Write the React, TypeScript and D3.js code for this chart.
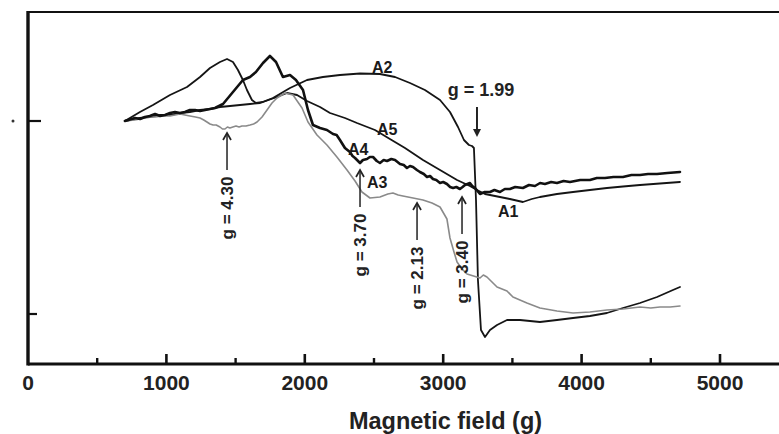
import React from 'react';
import * as d3 from 'd3';

// ---- data (field in gauss, intensity in arbitrary units) ----
const xMajorTicks = [0, 1000, 2000, 3000, 4000, 5000];
const xMinorTicks = [500, 1500, 2500, 3500, 4500];
const yTicks = [0, -193];
const xTitle = 'Magnetic field (g)';

const A2: [number, number][] = [
  [700, 0], [809, 3], [880, 4], [954, 6], [1026, 6], [1098, 8], [1170, 9], [1243, 11], [1315, 12], [1387, 14],
  [1460, 15], [1532, 16], [1604, 17], [1676, 18], [1770, 23], [1893, 33], [2016, 41], [2131, 44],
  [2254, 46], [2399, 47.5], [2543, 47], [2652, 44], [2760, 38], [2868, 31], [2977, 21], [3049, 9],
  [3107, -6], [3150, -19], [3186, -24], [3208, -25], [3222, -27], [3237, -79], [3251, -159],
  [3273, -209], [3302, -216], [3338, -209], [3389, -204], [3461, -199], [3555, -199], [3699, -201],
  [3822, -199], [3938, -197], [4060, -195], [4183, -192], [4299, -187], [4422, -182], [4545, -176],
  [4660, -169], [4711, -166],
];

const A3: [number, number][] = [
  [700, 0], [770, 1], [809, 2], [860, 4], [918, 4], [970, 5], [1026, 5], [1098, 7], [1134, 6], [1170, 5],
  [1210, 4], [1243, 3], [1270, 1], [1293, -1], [1315, -3], [1337, -4], [1360, -4], [1387, -6],
  [1405, -8], [1423, -8], [1441, -6], [1459, -7], [1480, -6], [1503, -5], [1525, -6], [1546, -5],
  [1575, -5], [1604, -4], [1630, -3], [1655, -1], [1691, 4], [1727, 11], [1763, 18], [1799, 23],
  [1857, 28], [1915, 26], [1980, 13], [2023, -1], [2088, -14], [2160, -24], [2232, -36],
  [2305, -49], [2363, -60], [2413, -71], [2471, -77], [2543, -76], [2600, -73], [2637, -72],
  [2675, -74], [2709, -75], [2782, -77], [2854, -79], [2919, -82], [2977, -86], [3027, -98],
  [3049, -117], [3078, -131], [3100, -141], [3136, -148], [3172, -153], [3266, -157], [3290, -154],
  [3316, -156], [3389, -166], [3461, -170], [3504, -176], [3605, -182], [3699, -187], [3822, -190],
  [3938, -192], [4060, -191], [4183, -189], [4299, -188], [4422, -186], [4500, -187], [4566, -186],
  [4640, -186], [4711, -185],
];

const A4: [number, number][] = [
  [700, 0], [773, 3], [810, 2], [845, 4], [880, 5], [918, 7], [955, 5], [990, 6], [1026, 8], [1062, 9],
  [1098, 8], [1134, 9], [1170, 11], [1207, 11], [1243, 10], [1279, 11], [1315, 12], [1351, 13],
  [1409, 17], [1481, 29], [1553, 41], [1604, 44], [1647, 49], [1698, 58], [1748, 65], [1792, 59],
  [1842, 44], [1893, 46], [1936, 41], [1987, 31], [2023, 11], [2059, -4], [2110, -7], [2160, -9],
  [2204, -13], [2230, -14], [2254, -19], [2290, -27], [2326, -31], [2345, -35], [2363, -37],
  [2399, -42], [2420, -39], [2449, -38], [2470, -36], [2493, -36], [2520, -40], [2543, -42],
  [2570, -39], [2594, -40], [2625, -38], [2652, -39], [2688, -43], [2715, -44], [2738, -47],
  [2760, -45], [2782, -46], [2810, -49], [2832, -51], [2860, -53], [2883, -56], [2905, -55],
  [2926, -58], [2950, -59], [2977, -62], [3000, -61], [3027, -63], [3050, -66], [3071, -67],
  [3095, -66], [3121, -68], [3140, -66], [3157, -64], [3193, -62], [3210, -65], [3230, -67],
  [3266, -73], [3300, -71], [3338, -71], [3370, -69], [3410, -71], [3445, -68], [3482, -68],
  [3520, -66], [3576, -67], [3620, -64], [3663, -65], [3700, -62], [3735, -63], [3780, -61],
  [3822, -62], [3870, -60], [3916, -61], [3990, -59], [4060, -59], [4110, -57], [4169, -57],
  [4230, -56], [4299, -56], [4360, -54], [4422, -54], [4480, -53], [4545, -53], [4620, -52],
  [4711, -51],
];

const A5: [number, number][] = [
  [700, 0], [809, 9], [903, 16], [1026, 26], [1149, 34], [1243, 44], [1315, 53], [1387, 59],
  [1438, 62], [1481, 59], [1517, 51], [1553, 41], [1582, 31], [1618, 21], [1647, 18], [1698, 19],
  [1799, 24], [1871, 28], [1944, 26], [2016, 20], [2110, 14], [2182, 8], [2290, 3], [2377, -2],
  [2507, -9], [2615, -18], [2724, -27], [2854, -39], [2977, -49], [3100, -59], [3193, -65],
  [3244, -69], [3302, -73], [3410, -76], [3482, -78], [3576, -81], [3640, -78], [3699, -76],
  [3822, -73], [3938, -71], [4060, -69], [4183, -67], [4299, -65.5], [4422, -64], [4566, -62.5],
  [4711, -61],
];

const seriesNames = ['A5', 'A2', 'A3', 'A4'];
const seriesData = [A5, A2, A3, A4];

const curveLabels = ['A2', 'A5', 'A4', 'A3', 'A1'];
const curveLabelField = [2485, 2522, 2312, 2449, 3396];
const curveLabelValue = [48, -14, -34, -67, -96];

const gLabels = ['g = 4.30', 'g = 3.70', 'g = 2.13', 'g = 3.40'];
const gFields = [1438, 2399, 2811, 3136];
const gTipValues = [-12, -49, -82, -76];

const topLabel = 'g = 1.99';
const topField = 3244;
const topTipValue = -16;

// ---- layout ----
const W = 779;
const H = 434;
const X0 = 28;
const YTOP = 12;
const YBOT = 364;

const styles: Record<string, { stroke: string; width: number }> = {
  A2: { stroke: '#151515', width: 1.8 },
  A3: { stroke: '#8a8a8a', width: 1.6 },
  A4: { stroke: '#111', width: 2.6 },
  A5: { stroke: '#151515', width: 1.8 },
};

const FONT = '"Liberation Sans", Arial, Helvetica, sans-serif';

export default function App() {
  const x = d3.scaleLinear().domain([0, 5000]).range([X0, 720]);
  const y = d3.scaleLinear().domain([-243, 109]).range([YBOT, YTOP]);
  const line = d3
    .line<[number, number]>()
    .x((d) => x(d[0]))
    .y((d) => y(d[1]))
    .curve(d3.curveLinear);

  return (
    <svg
      width={W}
      height={H}
      viewBox={`0 0 ${W} ${H}`}
      style={{ position: 'absolute', left: 0, top: 0, background: '#fff' }}
    >
      <rect x={0} y={0} width={W} height={H} fill="#fff" />
      {/* frame */}
      <line x1={X0} x2={W} y1={YTOP} y2={YTOP} stroke="#111" strokeWidth={2.2} />
      <line x1={X0} x2={W} y1={YBOT} y2={YBOT} stroke="#111" strokeWidth={3} />
      <line x1={X0} x2={X0} y1={YTOP - 1} y2={YBOT + 1.5} stroke="#111" strokeWidth={3.4} />

      {/* y ticks */}
      {yTicks.map((t, i) => (
        <line key={'yt' + t} x1={X0} x2={X0 + (i === 0 ? 13 : 9)} y1={y(t)} y2={y(t)} stroke="#111" strokeWidth={2.2} />
      ))}
      <circle cx={13} cy={y(yTicks[0])} r={1.5} fill="#333" />

      {/* x ticks */}
      {xMajorTicks.filter((t) => t > 0).map((t) => (
        <line key={'xM' + t} x1={x(t)} x2={x(t)} y1={YBOT} y2={YBOT - 10} stroke="#111" strokeWidth={2.6} />
      ))}
      {xMinorTicks.map((t) => (
        <line key={'xm' + t} x1={x(t)} x2={x(t)} y1={YBOT} y2={YBOT - 6} stroke="#111" strokeWidth={2.4} />
      ))}
      {xMajorTicks.map((t) => (
        <text
          key={'xl' + t}
          x={x(t)}
          y={390}
          textAnchor="middle"
          fontFamily={FONT}
          fontWeight="bold"
          fontSize={21}
          fill="#222"
        >
          {t}
        </text>
      ))}
      <text x={445.5} y={429} textAnchor="middle" fontFamily={FONT} fontWeight="bold" fontSize={23.5} fill="#222">
        {xTitle}
      </text>

      {/* spectra */}
      {seriesData.map((s, i) => (
        <path
          key={seriesNames[i]}
          d={line(s) || ''}
          fill="none"
          stroke={styles[seriesNames[i]].stroke}
          strokeWidth={styles[seriesNames[i]].width}
          strokeLinejoin="round"
          strokeLinecap="round"
        />
      ))}

      {/* curve labels */}
      {curveLabels.map((l, i) => (
        <text
          key={'cl' + l}
          x={x(curveLabelField[i])}
          y={y(curveLabelValue[i])}
          fontFamily={FONT}
          fontWeight="bold"
          fontSize={16}
          fill="#1a1a1a"
        >
          {l}
        </text>
      ))}

      {/* g-value arrows (pointing up) */}
      {gLabels.map((l, i) => {
        const ax = x(gFields[i]);
        const tip = y(gTipValues[i]);
        return (
          <g key={'g' + i}>
            <line x1={ax} x2={ax} y1={tip + 1} y2={tip + 37} stroke="#222" strokeWidth={1.5} />
            <path
              d={`M${ax - 4},${tip + 7} L${ax},${tip} L${ax + 4},${tip + 7}`}
              fill="none"
              stroke="#222"
              strokeWidth={1.7}
            />
            <text
              transform={`translate(${ax + 6},${tip + 75}) rotate(-90)`}
              textAnchor="middle"
              fontFamily={FONT}
              fontWeight="bold"
              fontSize={17}
              fill="#222"
            >
              {l}
            </text>
          </g>
        );
      })}

      {/* g = 1.99 arrow (pointing down) */}
      <text x={x(topField) + 4} y={96} textAnchor="middle" fontFamily={FONT} fontWeight="bold" fontSize={18} fill="#222">
        {topLabel}
      </text>
      <line x1={x(topField)} x2={x(topField)} y1={107} y2={y(topTipValue) - 6} stroke="#222" strokeWidth={2} />
      <path
        d={`M${x(topField) - 4},${y(topTipValue) - 8} L${x(topField) + 4},${y(topTipValue) - 8} L${x(topField)},${y(topTipValue)} Z`}
        fill="#222"
      />
    </svg>
  );
}
